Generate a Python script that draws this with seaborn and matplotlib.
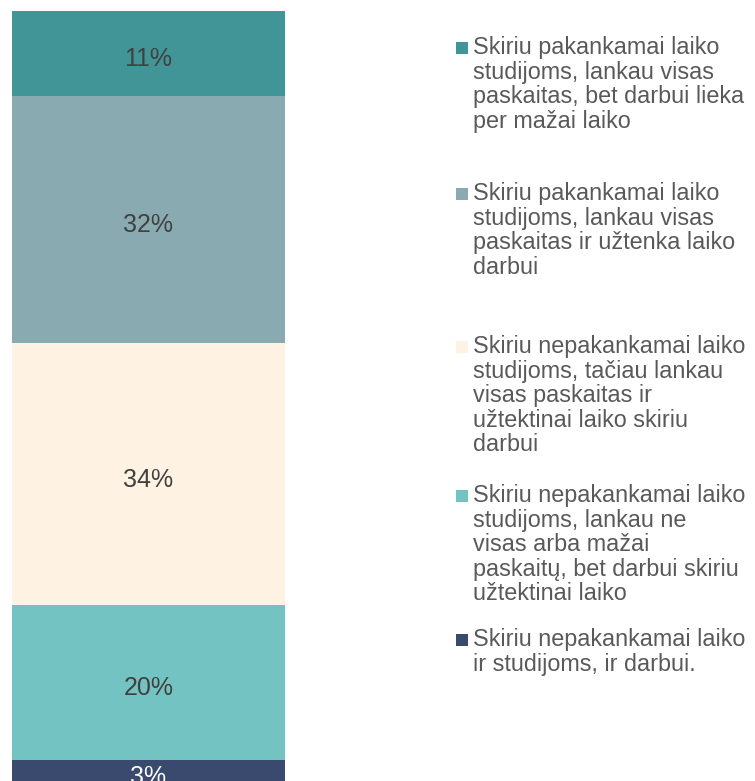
import matplotlib
matplotlib.use("Agg")
import matplotlib.pyplot as plt
import matplotlib.patches as mpatches
import seaborn as sns
import numpy as np

# data, bottom to top
categories = [
    "Skiriu nepakankamai laiko\nir studijoms, ir darbui.",
    "Skiriu nepakankamai laiko\nstudijoms, lankau ne\nvisas arba mažai\npaskaitų, bet darbui skiriu\nužtektinai laiko",
    "Skiriu nepakankamai laiko\nstudijoms, tačiau lankau\nvisas paskaitas ir\nužtektinai laiko skiriu\ndarbui",
    "Skiriu pakankamai laiko\nstudijoms, lankau visas\npaskaitas ir užtenka laiko\ndarbui",
    "Skiriu pakankamai laiko\nstudijoms, lankau visas\npaskaitas, bet darbui lieka\nper mažai laiko",
]
values = [3, 20, 34, 32, 11]
colors = ["#3A4A6E", "#73C3C3", "#FEF3E2", "#8AAAB2", "#419597"]
label_colors = ["white", "#404040", "#404040", "#404040", "#404040"]

sns.set_style("white")
plt.rcParams["font.family"] = ["Liberation Sans", "DejaVu Sans"]

W, H = 755, 781
fig = plt.figure(figsize=(W / 100, H / 100), dpi=100)
ax = fig.add_axes([12 / W, -2 / H, (285 - 12) / W, (H - 11 + 2) / H])

cum = np.cumsum(values)
# draw tallest first so shorter stacks sit on top
for i in range(len(values) - 1, -1, -1):
    sns.barplot(x=[0], y=[cum[i]], color=colors[i], width=1, saturation=1,
                linewidth=0, ax=ax)

for i, v in enumerate(values):
    mid = cum[i] - v / 2
    ax.annotate(f"{v}%", (0, mid), xytext=(0, -4), textcoords="offset points",
                ha="center", va="center", fontsize=18, color=label_colors[i])

ax.set_xlim(-0.5, 0.5)
ax.set_ylim(0, 100)
ax.axis("off")

# legend, top entry first
starts = [48, 194, 347, 496, 640]
for j, idx in enumerate(range(len(values) - 1, -1, -1)):
    y = starts[j]
    fig.patches.append(mpatches.Rectangle((456 / W, 1 - (y + 6) / H), 12 / W, 12 / H,
                                          transform=fig.transFigure,
                                          facecolor=colors[idx], edgecolor="none"))
    fig.text(473 / W, 1 - (y - 12) / H, categories[idx], ha="left", va="top",
             fontsize=16.8, color="#595959", linespacing=1.09)

fig.savefig("out.png", dpi=100)
